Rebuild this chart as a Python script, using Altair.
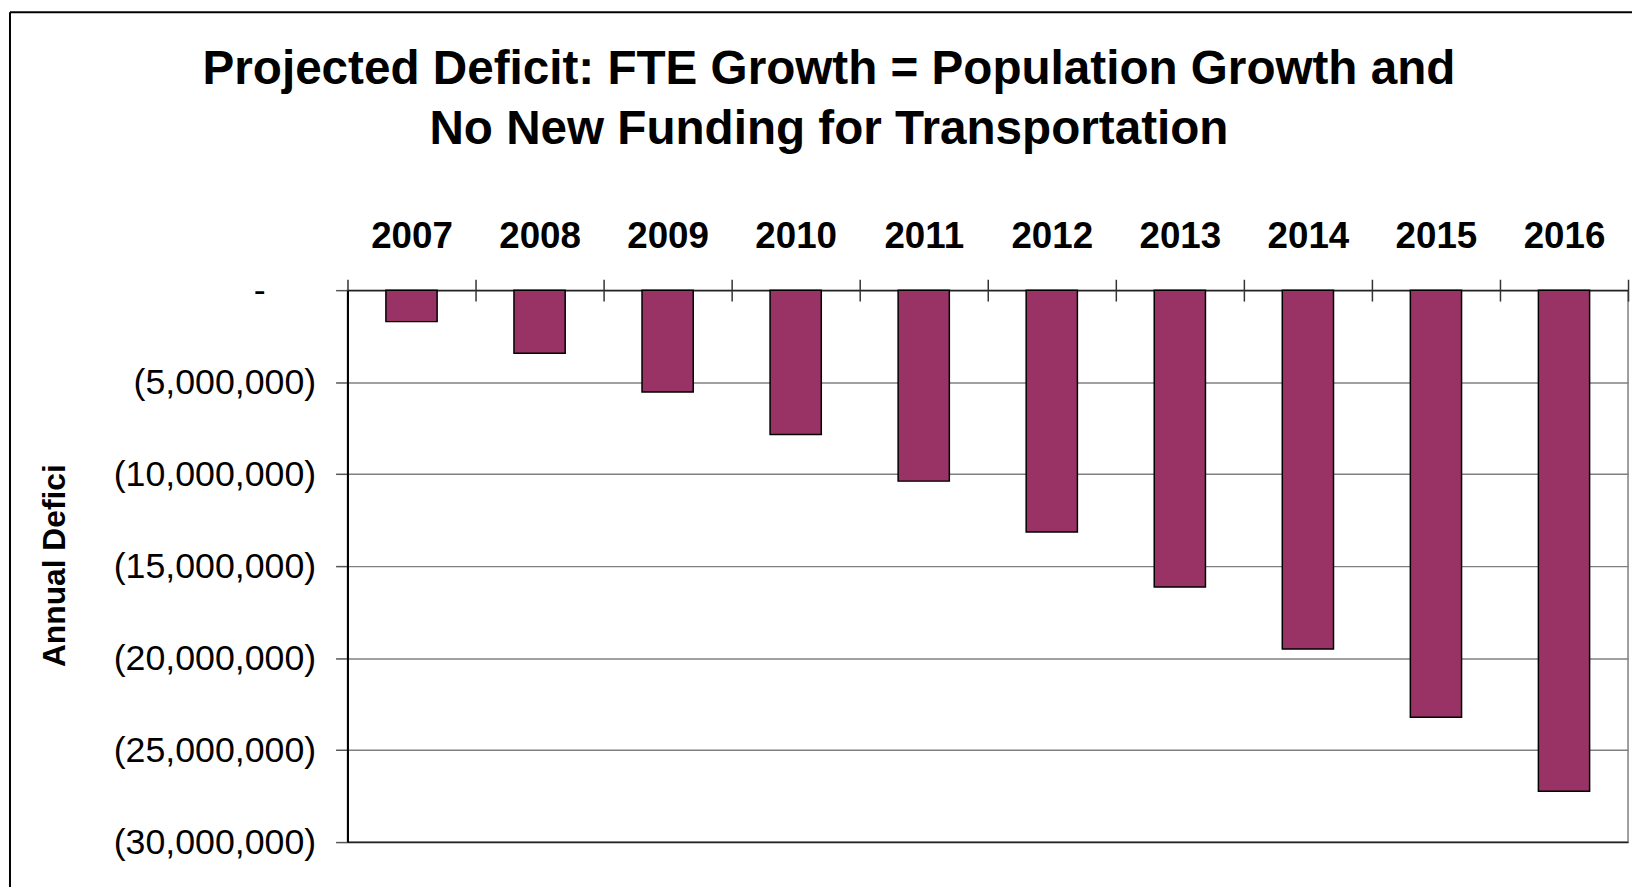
import altair as alt
import pandas as pd

years = ["2007", "2008", "2009", "2010", "2011", "2012", "2013", "2014", "2015", "2016"]
deficit = [-1710000, -3430000, -5530000, -7840000, -10380000,
           -13140000, -16130000, -19510000, -23220000, -27240000]
y_ticks = [0, -5000000, -10000000, -15000000, -20000000, -25000000, -30000000]
title_lines = ["Projected Deficit: FTE Growth = Population Growth and",
               "No New Funding for Transportation"]
y_title = "Annual Defici"

df = pd.DataFrame({"year": years, "deficit": deficit})

FONT = "Liberation Sans"

x_enc = alt.X(
    "year:N", sort=years,
    scale=alt.Scale(paddingInner=0, paddingOuter=0),
    axis=alt.Axis(orient="top", title=None, domain=False, tickBand="extent",
                  tickSize=22, offset=-11, tickColor="#333333", tickWidth=1.5,
                  labelFont=FONT, labelFontSize=37, labelFontWeight="bold",
                  labelColor="black", labelPadding=24, labelAngle=0, labelLimit=0),
)

y_enc = alt.Y(
    "deficit:Q",
    scale=alt.Scale(domain=[-30000000, 0], nice=False),
    axis=alt.Axis(
        values=y_ticks, title=y_title,
        grid=True,
        gridColor={"condition": {"test": "datum.value === 0 || datum.value === -30000000",
                                 "value": "#222222"}, "value": "#808080"},
        gridWidth=1.5,
        domainColor="black", domainWidth=2,
        tickSize=12, tickColor="#555555", tickWidth=1.5,
        labelExpr="datum.value === 0 ? '-' : '(' + format(abs(datum.value), ',') + ')'",
        labelFont=FONT, labelFontSize=36, labelColor="black",
        labelPadding={"condition": {"test": "datum.value === 0", "value": 71}, "value": 20},
        labelLimit=0,
        titleFont=FONT, titleFontSize=32, titleFontWeight="bold", titleColor="black",
        titleX=-278, titleY=277, titleAngle=270, titleAlign="center", titleBaseline="bottom",
    ),
)

bars = alt.Chart(df).mark_bar(
    color="#993366", stroke="black", strokeWidth=1.5, width=alt.RelativeBandSize(0.4)
).encode(x=x_enc, y=y_enc)

frame_data = alt.Data(values=[{"k": 0}])
top_line = alt.Chart(frame_data).mark_rule(color="black", strokeWidth=2).encode(
    x=alt.value(-340), x2=alt.value(1400), y=alt.value(-280)
)
left_line = alt.Chart(frame_data).mark_rule(color="black", strokeWidth=2).encode(
    x=alt.value(-340), y=alt.value(-280), y2=alt.value(700)
)

chart = alt.layer(bars, top_line, left_line).properties(
    width=1290, height=556,
    autosize=alt.AutoSizeParams(type="none"),
    padding={"left": 342, "top": 281, "right": 4, "bottom": 42},
    title=alt.TitleParams(text=title_lines, font=FONT, fontSize=48, fontWeight="bold",
                          color="black", anchor="middle", frame="group", dx=-160,
                          lineHeight=61, offset=-144),
).configure_view(stroke="#808080", strokeWidth=1.5)

chart.save("out.html", embed_options={"renderer": "svg", "actions": False})
